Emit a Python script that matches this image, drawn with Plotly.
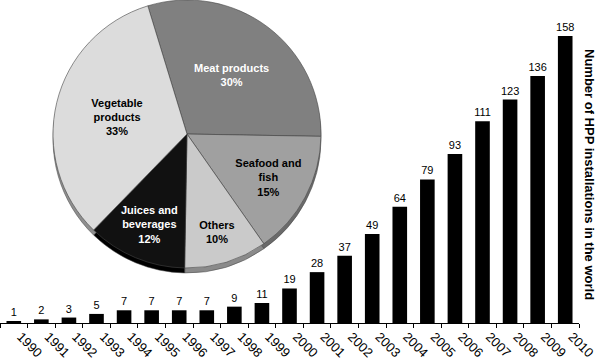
import plotly.graph_objects as go

years = [str(y) for y in range(1990, 2011)]
installations = [1, 2, 3, 5, 7, 7, 7, 7, 9, 11, 19, 28, 37, 49, 64, 79, 93, 111, 123, 136, 158]

pie_labels = ["Meat products", "Seafood and<br>fish", "Others", "Juices and<br>beverages", "Vegetable<br>products"]
pie_values = [30, 15, 10, 12, 33]
pie_colors = ["#808080", "#a0a0a0", "#cacaca", "#111111", "#dcdcdc"]
pie_edge_colors = ["#555555", "#6a6a6a", "#8a8a8a", "#000000", "#8f8f8f"]
pie_text_colors = ["white", "black", "black", "white", "black"]

FONT = "Liberation Sans, Arial, sans-serif"

fig = go.Figure()

fig.add_trace(go.Bar(
    x=years, y=installations, width=0.53,
    marker=dict(color="black", line=dict(width=0)),
    text=[str(v) for v in installations], textposition="outside",
    textfont=dict(family=FONT, size=11, color="#000000"),
    constraintext="none", hoverinfo="skip",
    cliponaxis=False, showlegend=False,
))

W, H = 598, 364
ml, mr, mt, mb = 0, 19, 0, 41
pw, ph = W - ml - mr, H - mt - mb

def dom(cx, cy, r):
    return dict(x=[(cx - r - ml) / pw, (cx + r - ml) / pw],
                y=[(H - mb - (cy + r)) / ph, (H - mb - (cy - r)) / ph])

# shadow (3D edge)
fig.add_trace(go.Pie(
    labels=pie_labels, values=pie_values, sort=False, direction="clockwise", rotation=-17,
    marker=dict(colors=pie_edge_colors, line=dict(color="#444444", width=0.5)),
    textinfo="none", hoverinfo="skip", showlegend=False,
    domain=dom(187, 139, 134),
))
fig.add_trace(go.Pie(
    labels=pie_labels, values=pie_values, sort=False, direction="clockwise", rotation=-17,
    marker=dict(colors=pie_colors, line=dict(color="#444444", width=0.6)),
    texttemplate="<b>%{label}<br>%{value}%</b>", textposition="inside",
    insidetextorientation="horizontal",
    insidetextfont=dict(family=FONT, size=11, color=pie_text_colors),
    hoverinfo="skip", showlegend=False,
    domain=dom(187, 134, 134),
))

fig.add_annotation(
    text="<b>Number of HPP installations in the world</b>",
    xref="paper", yref="paper", x=(590 - ml) / pw, y=(H - mb - 174) / ph,
    xanchor="center", yanchor="middle",
    textangle=90, showarrow=False,
    font=dict(family=FONT, size=13, color="black"),
)

fig.update_layout(
    width=W, height=H, margin=dict(l=ml, r=mr, t=mt, b=mb, autoexpand=False),
    paper_bgcolor="white", plot_bgcolor="white",
    font=dict(family=FONT, color="black"),
    hovermode=False,
    xaxis=dict(type="category", showline=True, linecolor="black", linewidth=1,
               ticks="outside", tickson="boundaries", ticklen=4, tickcolor="black",
               tickangle=45, tickfont=dict(family=FONT, size=13, color="black"),
               ticklabelshift=7,
               automargin=False, showgrid=False, zeroline=False),
    yaxis=dict(range=[0, 177.8], visible=False, showgrid=False, zeroline=False,
               automargin=False),
)

fig.write_html("out.html", config={"displayModeBar": False},
               post_script="document.body.style.margin='0';document.body.style.overflow='hidden';")
